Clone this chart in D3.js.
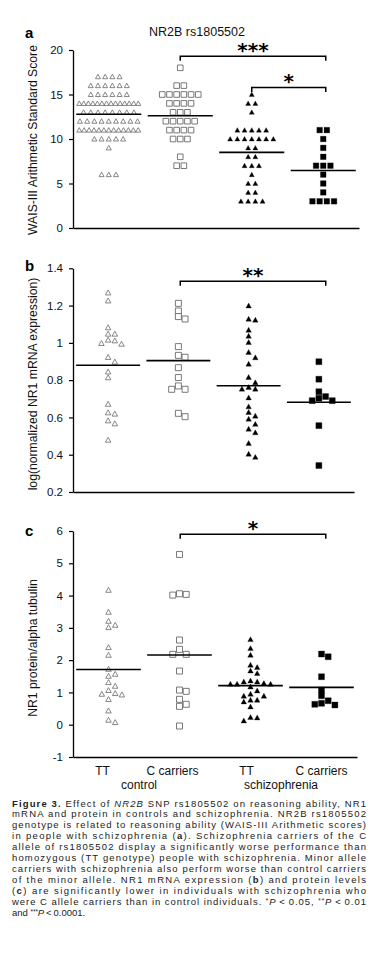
<!DOCTYPE html>
<html><head><meta charset="utf-8">
<script src="https://cdn.jsdelivr.net/npm/d3@7"></script>
<style>body{margin:0;background:#fff}svg{display:block}</style>
</head><body>
<svg id="chart" width="378" height="953"></svg>
<script>
// ---------- DATA ----------
const groups = ["TT control", "C carriers control", "TT schizophrenia", "C carriers schizophrenia"];
const groupTickLabels = ["TT", "C carriers", "TT", "C carriers"];
const diagnosisLabels = ["control", "schizophrenia"];
const title = "NR2B rs1805502";

// Panel a: WAIS-III Arithmetic scores (value, count of subjects at value)
const a_ttCtrl_values = [17, 16, 15, 14, 13, 12, 11, 10, 9, 6];
const a_ttCtrl_counts = [4, 6, 6, 14, 8, 9, 13, 5, 1, 3];
const a_cCtrl_values = [18, 16, 15, 14, 13, 12, 11, 10, 8, 7];
const a_cCtrl_counts = [1, 2, 6, 4, 3, 5, 4, 3, 1, 2];
const a_ttScz_values = [15, 14, 13, 11, 10, 9, 8, 7, 6, 5, 4, 3];
const a_ttScz_counts = [1, 2, 1, 5, 7, 2, 2, 3, 1, 2, 2, 4];
const a_cScz_values = [11, 10, 9, 8, 7, 6, 5, 4, 3];
const a_cScz_counts = [2, 1, 1, 1, 3, 1, 1, 1, 4];
const a_ticks = [0, 5, 10, 15, 20];

// Panel b: log(normalized NR1 mRNA expression)
const b_ttCtrl = [1.269, 1.226, 1.082, 1.048, 1.048, 1.016, 1.012, 0.998, 0.994, 0.923, 0.898, 0.845, 0.814, 0.672, 0.626, 0.619, 0.583, 0.567, 0.479];
const b_cCtrl = [1.212, 1.171, 1.141, 1.128, 0.980, 0.933, 0.923, 0.867, 0.814, 0.769, 0.751, 0.751, 0.622, 0.604];
const b_ttScz = [1.199, 1.128, 1.123, 1.069, 1.037, 1.003, 0.950, 0.921, 0.887, 0.816, 0.787, 0.762, 0.753, 0.753, 0.706, 0.658, 0.628, 0.608, 0.592, 0.564, 0.538, 0.519, 0.462, 0.404, 0.387];
const b_cScz = [0.899, 0.805, 0.738, 0.712, 0.703, 0.690, 0.690, 0.556, 0.342];
const b_ticks = [0.2, 0.4, 0.6, 0.8, 1, 1.2, 1.4];

// Panel c: NR1 protein / alpha tubulin
const c_ttCtrl = [4.17, 3.49, 3.21, 3.087, 3.015, 2.396, 2.158, 1.724, 1.570, 1.508, 1.312, 1.198, 1.065, 0.972, 0.950, 0.929, 0.786, 0.433, 0.146, 0.074];
const c_cCtrl = [5.275, 4.056, 4.037, 4.015, 2.622, 2.334, 2.18, 2.18, 1.663, 1.074, 1.033, 0.786, 0.632, 0.570, -0.04];
const c_ttScz = [2.644, 2.365, 2.158, 1.848, 1.777, 1.672, 1.591, 1.362, 1.331, 1.331, 1.282, 1.260, 1.260, 1.260, 1.177, 1.053, 0.950, 0.889, 0.889, 0.765, 0.765, 0.712, 0.557, 0.229, 0.217, 0.124];
const c_cScz = [2.189, 2.105, 1.486, 1.074, 0.898, 0.743, 0.663, 0.632, 0.610];
const c_ticks = [-1, 0, 1, 2, 3, 4, 5, 6];

// Significance comparisons: [from group, to group, label, bracket height in data units]
const a_sig = [[1, 3, "***", 19.3], [2, 3, "*", 15.8]];
const b_sig = [[1, 3, "**", 1.33]];
const c_sig = [[1, 3, "*", 5.9]];

const captionLines = [
  [["b", "Figure 3."], ["n", "  Effect of "], ["i", "NR2B"], ["n", " SNP rs1805502 on reasoning ability, NR1"]],
  [["n", "mRNA and protein in controls and schizophrenia. NR2B rs1805502"]],
  [["n", "genotype is related to reasoning ability (WAIS-III Arithmetic scores)"]],
  [["n", "in people with schizophrenia ("], ["b", "a"], ["n", "). Schizophrenia carriers of the C"]],
  [["n", "allele of rs1805502 display a significantly worse performance than"]],
  [["n", "homozygous (TT genotype) people with schizophrenia. Minor allele"]],
  [["n", "carriers with schizophrenia also perform worse than control carriers"]],
  [["n", "of the minor allele. NR1 mRNA expression ("], ["b", "b"], ["n", ") and protein levels"]],
  [["n", "("], ["b", "c"], ["n", ") are significantly lower in individuals with schizophrenia who"]],
  [["n", "were C allele carriers than in control individuals. "], ["s", "*"], ["i", "P"], ["n", "\u2009<\u20090.05, "], ["s", "**"], ["i", "P"], ["n", "\u2009<\u20090.01"]],
  [["n", "and "], ["s", "***"], ["i", "P"], ["n", "\u2009<\u20090.0001."]]
];

// ---------- DRAWING ----------
const svg = d3.select("#chart");
svg.append("rect").attr("width", 378).attr("height", 953).attr("fill", "#fff");
const FONT = "Liberation Sans, Arial, Helvetica, sans-serif";

const styles = [
  {shape: "tri", fill: "#fff", stroke: "#6a6a6a", sw: 0.8},
  {shape: "sq", fill: "#fff", stroke: "#6a6a6a", sw: 0.9},
  {shape: "tri", fill: "#000", stroke: "#000", sw: 0.3},
  {shape: "sq", fill: "#000", stroke: "#000", sw: 0.3}
];

function markerPath(shape, x, y, s) {
  if (shape === "tri") {
    const w = s / 2, h = s * 0.9;
    return `M${x},${y - h * 0.55}L${x + w},${y + h * 0.45}L${x - w},${y + h * 0.45}Z`;
  }
  const w = s / 2;
  return `M${x - w},${y - w}h${s}v${s}h${-s}Z`;
}

function expand(values, counts) {
  const out = [];
  values.forEach((v, i) => { for (let k = 0; k < counts[i]; k++) out.push(v); });
  return out;
}

// row layout for discrete scores: tied values placed side by side, centred
function rowOffsets(vals, step, maxW) {
  const byVal = d3.group(vals.map((v, i) => ({v, i})), d => d.v);
  const off = new Array(vals.length);
  for (const [, arr] of byVal) {
    const n = arr.length;
    const sp = n > 1 ? Math.min(step, maxW / (n - 1)) : 0;
    arr.forEach((d, j) => { off[d.i] = (j - (n - 1) / 2) * sp; });
  }
  return off;
}

// dodge layout for continuous values
function dodgeOffsets(vals, y, step, thr) {
  const idx = vals.map((v, i) => i).sort((i, j) => vals[j] - vals[i]);
  const placed = [];
  const off = new Array(vals.length);
  for (const i of idx) {
    const yy = y(vals[i]);
    for (let k = 0; ; k++) {
      const s = k === 0 ? 0 : (k % 2 ? (k + 1) / 2 : -k / 2);
      if (!placed.some(p => p.s === s && Math.abs(p.y - yy) < thr)) {
        placed.push({s, y: yy});
        off[i] = s * step;
        break;
      }
    }
  }
  return off;
}

const xA = d3.scaleBand().domain(groups).range([73, 359]).padding(0);

function panel(cfg) {
  const g = svg.append("g");
  const x = d3.scaleBand().domain(groups).range([73, cfg.xEnd]).padding(0);
  const y = d3.scaleLinear().domain(cfg.domain).range(cfg.yRange);

  // y axis
  const ya = g.append("g").attr("transform", "translate(73,0)")
    .call(d3.axisLeft(y).tickValues(cfg.ticks).tickSize(4).tickSizeOuter(0).tickPadding(6)
      .tickFormat(d => String(d)));
  ya.select(".domain").attr("stroke", "#000").attr("stroke-width", 1.3);
  ya.selectAll(".tick line").attr("stroke", "#000").attr("stroke-width", 1.2);
  ya.selectAll(".tick text").attr("font-family", FONT).attr("font-size", 11.5).attr("fill", "#111");

  // x axis
  const xa = g.append("g").attr("transform", `translate(0,${cfg.yRange[0]})`)
    .call(d3.axisBottom(x).tickSize(0).tickSizeOuter(0).tickPadding(9)
      .tickFormat((d, i) => cfg.showX ? groupTickLabels[i] : ""));
  xa.select(".domain").attr("stroke", "#000").attr("stroke-width", 1.3);
  xa.selectAll(".tick text").attr("font-family", FONT).attr("font-size", 12).attr("fill", "#111")
    .attr("dx", (d, i) => [-6, -7, -4, 0][i]);

  if (cfg.showX) {
    [[0, 1], [2, 3]].forEach((pair, i) => {
      const cx = (x(groups[pair[0]]) + x(groups[pair[1]]) + x.bandwidth()) / 2;
      g.append("text").attr("x", cx - 5).attr("y", cfg.yRange[0] + 32)
        .attr("text-anchor", "middle").attr("font-family", FONT).attr("font-size", 12).attr("fill", "#111")
        .text(diagnosisLabels[i]);
    });
  }

  // y label
  g.append("text")
    .attr("transform", `translate(37,${cfg.labelY}) rotate(-90)`)
    .attr("text-anchor", "middle").attr("font-family", FONT).attr("font-size", 12.2).attr("fill", "#111")
    .text(cfg.ylabel);

  // panel letter
  g.append("text").attr("x", 25).attr("y", cfg.letterY)
    .attr("font-family", FONT).attr("font-weight", "bold").attr("font-size", 15).attr("fill", "#000")
    .text(cfg.letter);

  // points + mean lines
  cfg.data.forEach((vals, gi) => {
    const st = styles[gi];
    const cx = x(groups[gi]) + x.bandwidth() / 2;
    const offs = cfg.layout(vals, y);
    g.append("g").selectAll("path").data(vals).join("path")
      .attr("d", (d, i) => markerPath(st.shape, cx + offs[i], y(d), st.shape === "tri" ? cfg.triSize : cfg.sqSize))
      .attr("fill", st.fill).attr("stroke", st.stroke).attr("stroke-width", st.sw);
    const m = d3.mean(vals);
    const half = x.bandwidth() * 0.455;
    g.append("line").attr("x1", cx - half).attr("x2", cx + half)
      .attr("y1", y(m)).attr("y2", y(m)).attr("stroke", "#000").attr("stroke-width", 1.6);
  });

  // significance brackets
  cfg.sig.forEach(([a, b, lab, h]) => {
    const x1 = xA(groups[a]) + xA.bandwidth() / 2;
    const x2 = xA(groups[b]) + xA.bandwidth() / 2 + 2.5;
    const yy = y(h);
    g.append("path").attr("d", `M${x1},${yy + 4.5}V${yy}H${x2}V${yy + 4.5}`)
      .attr("fill", "none").attr("stroke", "#000").attr("stroke-width", 1.5);
    g.append("text").attr("x", (x1 + x2) / 2).attr("y", yy + 1)
      .attr("text-anchor", "middle").attr("font-family", "DejaVu Sans, sans-serif")
      .attr("font-weight", "bold").attr("font-size", 20).attr("fill", "#000").text(lab);
  });
  return {x, y};
}

// Panel a
svg.append("text").attr("x", 197).attr("y", 35.5).attr("text-anchor", "middle")
  .attr("font-family", FONT).attr("font-size", 12.5).attr("fill", "#111").text(title);

panel({
  letter: "a", letterY: 37.5, xEnd: 359, domain: [0, 20], yRange: [228, 50], ticks: a_ticks,
  ylabel: "WAIS-III Arithmetic Standard Score", labelY: 140, showX: false,
  data: [expand(a_ttCtrl_values, a_ttCtrl_counts), expand(a_cCtrl_values, a_cCtrl_counts),
         expand(a_ttScz_values, a_ttScz_counts), expand(a_cScz_values, a_cScz_counts)],
  layout: (vals) => rowOffsets(vals, 7.2, 59),
  triSize: 5, sqSize: 5.6, sig: a_sig
});

// Panel b
panel({
  letter: "b", letterY: 270.5, xEnd: 354, domain: [0.2, 1.4], yRange: [492, 268.3], ticks: b_ticks,
  ylabel: "log(normalized NR1 mRNA expression)", labelY: 384, showX: false,
  data: [b_ttCtrl, b_cCtrl, b_ttScz, b_cScz],
  layout: (vals, y) => dodgeOffsets(vals, y, 6.7, 5.5),
  triSize: 5.5, sqSize: 6, sig: b_sig
});

// Panel c
panel({
  letter: "c", letterY: 535.5, xEnd: 357, domain: [-1, 6], yRange: [757, 531], ticks: c_ticks,
  ylabel: "NR1 protein/alpha tubulin", labelY: 648, showX: true,
  data: [c_ttCtrl, c_cCtrl, c_ttScz, c_cScz],
  layout: (vals, y) => dodgeOffsets(vals, y, 6.7, 5.5),
  triSize: 5.5, sqSize: 6, sig: c_sig
});

// Caption
const CAP = "Liberation Sans, Arial, sans-serif";
captionLines.forEach((parts, li) => {
  const t = svg.append("text").attr("x", 12).attr("y", 806.5 + li * 10.95)
    .attr("font-family", CAP).attr("font-size", 9.5).attr("fill", "#222");
  if (li < captionLines.length - 1) t.attr("textLength", 354).attr("lengthAdjust", "spacing");
  let raised = false;
  parts.forEach(([k, s]) => {
    const ts = t.append("tspan").text(s);
    if (k === "b") ts.attr("font-weight", "bold");
    if (k === "i") ts.attr("font-style", "italic");
    if (k === "s") { ts.attr("font-size", 6.3).attr("dy", -2.5); raised = true; }
    else if (raised) { ts.attr("dy", 2.5); raised = false; }
  });
});
</script>
</body></html>
